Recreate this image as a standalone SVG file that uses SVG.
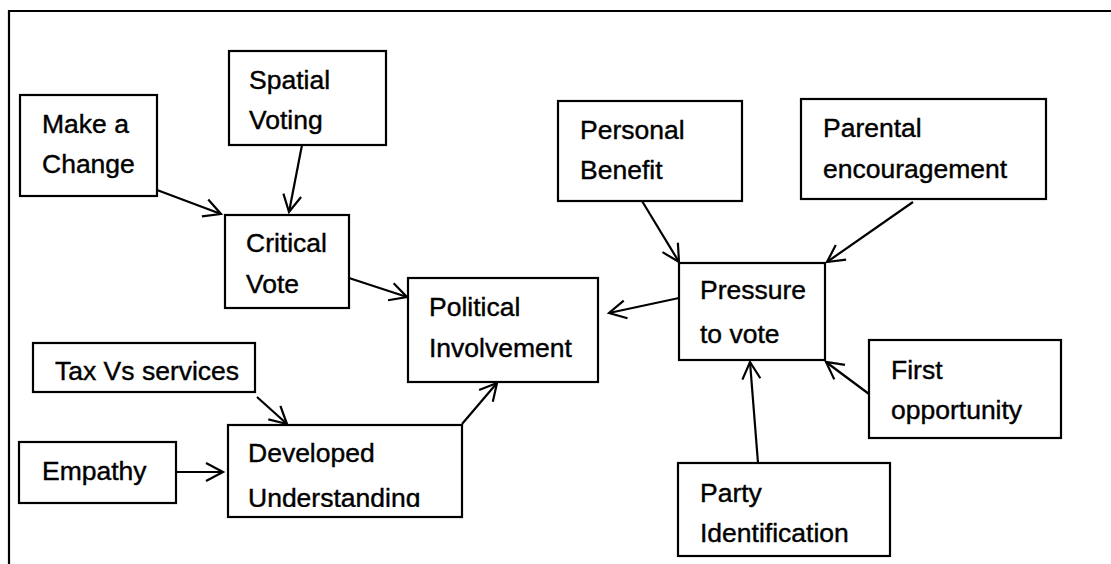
<svg xmlns="http://www.w3.org/2000/svg" width="1111" height="564" viewBox="0 0 1111 564">
<style>
.box{fill:#fff;stroke:#000;stroke-width:2.2}
.t{font-family:"Liberation Sans",Arial,sans-serif;font-size:26.5px;fill:#000;stroke:#000;stroke-width:0.4}
.c{fill:none;stroke:#000;stroke-width:2.2;marker-end:url(#arr)}
.frame{fill:none;stroke:#000;stroke-width:2.2}
</style>
<defs>
<marker id="arr" markerUnits="userSpaceOnUse" markerWidth="26" markerHeight="26" viewBox="-22 -13 26 26" refX="0" refY="0" orient="auto">
<path d="M-17,-9 L0,0 L-17,9" fill="none" stroke="#000" stroke-width="2.2"/>
</marker>
<clipPath id="clipDev"><rect x="228" y="425" width="234" height="82"/></clipPath>
</defs>
<rect width="1111" height="564" fill="#fff"/>
<path class="frame" d="M9,564 L9,11 L1111,11"/>

<g id="make-a-change"><rect class="box" x="20" y="95" width="137" height="101"/><text class="t" x="42" y="133">Make a</text><text class="t" x="42" y="173">Change</text></g>
<g id="spatial-voting"><rect class="box" x="229" y="51" width="157" height="94"/><text class="t" x="249" y="89">Spatial</text><text class="t" x="249" y="129">Voting</text></g>
<g id="critical-vote"><rect class="box" x="225" y="215" width="124" height="93"/><text class="t" x="246" y="252">Critical</text><text class="t" x="246" y="293">Vote</text></g>
<g id="political-involvement"><rect class="box" x="408" y="278" width="190" height="104"/><text class="t" x="429" y="316">Political</text><text class="t" x="429" y="357">Involvement</text></g>
<g id="tax-vs-services"><rect class="box" x="33" y="343" width="222" height="49"/><text class="t" x="55" y="380">Tax Vs services</text></g>
<g id="empathy"><rect class="box" x="19" y="442" width="157" height="61"/><text class="t" x="42" y="480">Empathy</text></g>
<g id="developed-understanding"><rect class="box" x="228" y="425" width="234" height="92"/><g clip-path="url(#clipDev)"><text class="t" x="248" y="462">Developed</text><text class="t" x="248" y="507">Understanding</text></g></g>
<g id="personal-benefit"><rect class="box" x="558" y="101" width="184" height="100"/><text class="t" x="580" y="139">Personal</text><text class="t" x="580" y="179">Benefit</text></g>
<g id="parental-encouragement"><rect class="box" x="801" y="99" width="245" height="100"/><text class="t" x="823" y="137">Parental</text><text class="t" x="823" y="178">encouragement</text></g>
<g id="pressure-to-vote"><rect class="box" x="679" y="263" width="146" height="97"/><text class="t" x="700" y="299">Pressure</text><text class="t" x="700" y="343">to vote</text></g>
<g id="first-opportunity"><rect class="box" x="869" y="340" width="192" height="98"/><text class="t" x="891" y="379">First</text><text class="t" x="891" y="419">opportunity</text></g>
<g id="party-identification"><rect class="box" x="678" y="463" width="212" height="93"/><text class="t" x="700" y="502">Party</text><text class="t" x="700" y="542">Identification</text></g>

<g id="connectors">
<line class="c" x1="157" y1="190" x2="221" y2="214"/>
<line class="c" x1="302" y1="145" x2="289" y2="212"/>
<line class="c" x1="349" y1="278" x2="407" y2="297"/>
<line class="c" x1="257" y1="397" x2="287" y2="424"/>
<line class="c" x1="176" y1="472" x2="223" y2="472"/>
<line class="c" x1="462" y1="424" x2="497" y2="383"/>
<line class="c" x1="679" y1="298" x2="609" y2="313"/>
<line class="c" x1="642" y1="201" x2="679" y2="262"/>
<line class="c" x1="913" y1="202" x2="827" y2="262"/>
<line class="c" x1="869" y1="394" x2="826" y2="362"/>
<line class="c" x1="758" y1="463" x2="750" y2="362"/>
</g>
</svg>
